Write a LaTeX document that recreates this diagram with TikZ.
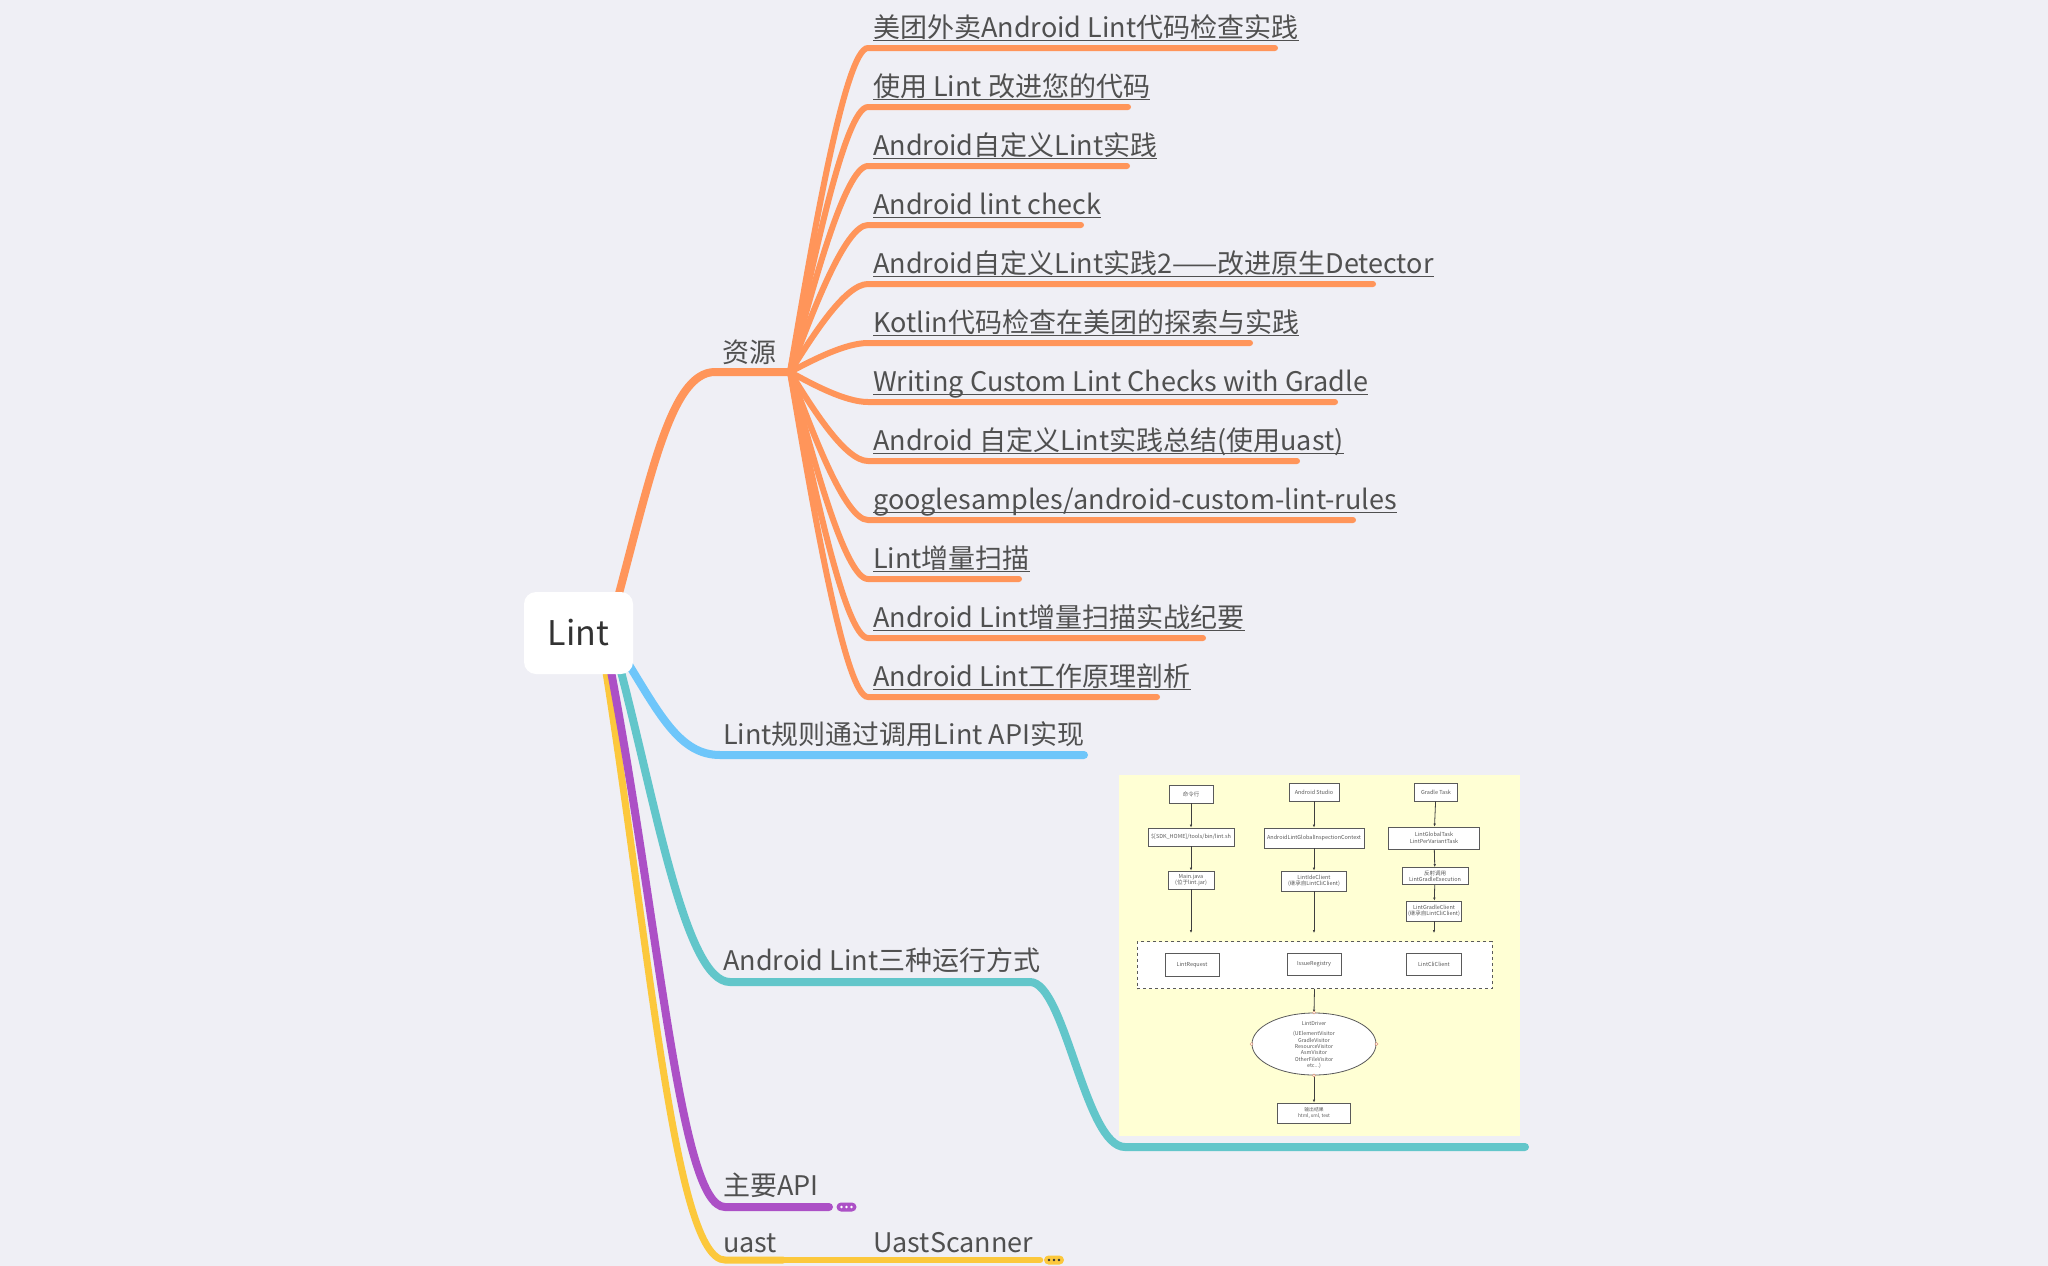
\documentclass[tikz,border=0pt]{standalone}
\usepackage{fontspec}
\setmainfont{Noto Sans CJK SC}
\usetikzlibrary{shapes.geometric,arrows.meta}
\definecolor{bgc}{RGB}{239,239,245}
\definecolor{txt}{RGB}{80,80,80}
\definecolor{rootc}{RGB}{51,51,51}
\definecolor{orn}{RGB}{255,149,90}
\definecolor{blu}{RGB}{110,198,250}
\definecolor{tea}{RGB}{98,198,202}
\definecolor{pur}{RGB}{172,80,198}
\definecolor{yel}{RGB}{252,200,60}
\definecolor{imgbg}{RGB}{255,255,212}
\definecolor{fgray}{RGB}{90,90,90}
\definecolor{pin}{RGB}{220,150,120}
\pgfdeclarelayer{back}\pgfdeclarelayer{lines}\pgfsetlayers{back,lines,main}
\tikzset{
  leaf/.style={inner sep=0pt, text=txt, font=\fontsize{27}{31}\selectfont},
  ul/.style={draw=txt, line width=1.7pt},
  oleaf/.style={draw=orn, line width=6pt, line cap=round},
  branch/.style={line width=8pt, line cap=round},
  root/.style={fill=white, rounded corners=12pt, minimum width=109pt, minimum height=82pt, inner sep=0pt, text=rootc, font=\fontsize{34}{37}\selectfont},
  pill/.style={rounded corners=4.5pt, minimum width=20pt, minimum height=9pt, inner sep=0pt},
  tinyt/.style={font=\fontsize{5.5}{6.5}\selectfont, text=fgray, align=center, inner sep=0pt},
  fbox/.style={tinyt, draw=fgray, fill=white, line width=0.8pt},
  farr/.style={draw=fgray!70!black, line width=0.8pt, -{Latex[length=3pt,width=2.6pt]}},
  pinc/.style={draw=pin, fill=white, line width=0.5pt},
}
\newcommand\mmleaf[4]{%
  \pgfmathsetmacro\cyy{372+0.4*(#2-372)}%
  \node[leaf, anchor=base west] (#1) at (873,#2-11) {#4};
  \draw[ul] ([yshift=-3.5pt]#1.base west) -- ([yshift=-3.5pt]#1.base east);
  \coordinate (#1e) at (#3,#2);
  \begin{pgfonlayer}{lines}
  \draw[oleaf] (hub) .. controls (812,\cyy) and (845,#2) .. (868,#2) -- (#1e);
  \end{pgfonlayer}
}
\begin{document}
\begin{tikzpicture}[x=1pt,y=-1pt]
\begin{pgfonlayer}{back}
\fill[bgc] (0,0) rectangle (2048,1266);
\end{pgfonlayer}
\useasboundingbox (0,0) rectangle (2048,1266);

% root
\node[root] (lint) at (578.5,633) {Lint};

% main branches
\coordinate (hub) at (790,372);
\coordinate (oS) at (614,612);
\coordinate (bS) at (626,660);
\coordinate (tS) at (619,664);
\coordinate (pS) at (610,666);
\coordinate (yS) at (605,666);
\coordinate (bE) at (1084,755);
\coordinate (tM) at (1030,982);
\coordinate (tE) at (1525,1147);
\coordinate (pE) at (829,1207);
\coordinate (yM) at (783,1260);
\coordinate (yE) at (1040,1260);
\begin{pgfonlayer}{lines}
\draw[branch, yel, line width=7pt] (yS) .. controls (650,950) and (675,1260) .. (725,1260) -- (yM);
\draw[branch, yel, line width=6.5pt] (yM) -- (yE);
\draw[branch, pur] (pS) .. controls (660,930) and (680,1207) .. (725,1207) -- (pE);
\draw[branch, tea] (tS) .. controls (655,800) and (685,982) .. (730,982) -- (tM)
   .. controls (1065,982) and (1085,1147) .. (1125,1147) -- (tE);
\draw[branch, blu] (bS) .. controls (660,715) and (680,755) .. (720,755) -- (bE);
\draw[branch, orn] (oS) .. controls (650,480) and (670,372) .. (715,372) -- (hub);
\end{pgfonlayer}

% branch labels
\node[leaf, anchor=base] (zy) at (749,362) {资源};
\node[leaf, anchor=base west] (api) at (723,744) {Lint规则通过调用Lint API实现};
\node[leaf, anchor=base west] (three) at (723,970) {Android Lint三种运行方式};
\node[leaf, anchor=base west] (main) at (723,1195) {主要API};
\node[leaf, anchor=base west] (uast) at (723,1252) {uast};
\node[leaf, anchor=base west] (scan) at (873,1252) {UastScanner};

% collapse pills
\node[pill, fill=pur] (pp) at (846.5,1207) {};
\foreach \d in {-5,0,5} \fill[white] ([xshift=\d pt]pp.center) circle (1.3);
\node[pill, fill=yel] (yp) at (1054,1260) {};
\foreach \d in {-5,0,5} \fill[rootc] ([xshift=\d pt]yp.center) circle (1.3);

% leaves
\mmleaf{l0}{48}{1275}{美团外卖Android Lint代码检查实践}
\mmleaf{l1}{107}{1128}{使用 Lint 改进您的代码}
\mmleaf{l2}{166}{1127}{Android自定义Lint实践}
\mmleaf{l3}{225}{1081}{Android lint check}
\mmleaf{l4}{284}{1373}{Android自定义Lint实践2——改进原生Detector}
\mmleaf{l5}{343}{1250}{Kotlin代码检查在美团的探索与实践}
\mmleaf{l6}{402}{1335}{Writing Custom Lint Checks with Gradle}
\mmleaf{l7}{461}{1297}{Android 自定义Lint实践总结(使用uast)}
\mmleaf{l8}{520}{1353}{googlesamples/android-custom-lint-rules}
\mmleaf{l9}{579}{1019}{Lint增量扫描}
\mmleaf{l10}{638}{1203}{Android Lint增量扫描实战纪要}
\mmleaf{l11}{697}{1157}{Android Lint工作原理剖析}

% embedded picture
\fill[imgbg] (1119,775) rectangle (1520,1136);
\node[fbox, minimum width=44pt, minimum height=18pt] (c1) at (1191,794) {命令行};
\node[fbox, minimum width=50pt, minimum height=18pt] (c2) at (1314,792) {Android Studio};
\node[fbox, minimum width=43pt, minimum height=18pt] (c3) at (1436,792) {Gradle Task};
\node[fbox, minimum width=86pt, minimum height=18pt] (d1) at (1191,837) {\$[SDK\_HOME]/tools/bin/lint.sh};
\node[fbox, minimum width=100pt, minimum height=20pt] (d2) at (1314,838) {AndroidLintGlobalInspectionContext};
\node[fbox, minimum width=91pt, minimum height=22pt] (d3) at (1434,838) {LintGlobalTask\\LintPerVariantTask};
\node[fbox, minimum width=46pt, minimum height=18pt] (e1) at (1191,880) {Main.java\\(位于lint.jar)};
\node[fbox, minimum width=65pt, minimum height=20pt] (e2) at (1314,881) {LintIdeClient\\(继承自LintCliClient)};
\node[fbox, minimum width=66pt, minimum height=17pt] (e3) at (1435,876) {反射调用\\LintGradleExecution};
\node[fbox, minimum width=55pt, minimum height=20pt] (f3) at (1434,911) {LintGradleClient\\(继承自LintCliClient)};
\coordinate (a1) at (1191,933);
\coordinate (a2) at (1314,933);
\coordinate (a3) at (1434,933);
\node[draw=fgray, dashed, fill=white, line width=0.8pt, minimum width=355pt, minimum height=47pt, inner sep=0pt] (dash) at (1314.5,965) {};
\node[fbox, minimum width=54pt, minimum height=23pt] (g1) at (1192,965) {LintRequest};
\node[fbox, minimum width=54pt, minimum height=22pt] (g2) at (1314,964) {IssueRegistry};
\node[fbox, minimum width=55pt, minimum height=22pt] (g3) at (1434,964) {LintCliClient};
\node[ellipse, draw=fgray, fill=white, line width=0.8pt, minimum width=124pt, minimum height=62pt, inner sep=0pt] (ell) at (1314,1044) {};
\node[tinyt, font=\fontsize{5.3}{6.4}\selectfont] (ellt) at (1314,1045) {LintDriver\\[4pt](UElementVisitor\\GradleVisitor\\ResourceVisitor\\AsmVisitor\\OtherFileVisitor\\etc...)};
\node[fbox, minimum width=73pt, minimum height=20pt, font=\fontsize{4.8}{5.8}\selectfont] (out) at (1314,1113) {输出结果\\html, xml, text};
\draw[farr] (c1) -- (d1);
\draw[farr] (d1) -- (e1);
\draw[farr] (e1) -- (a1);
\draw[farr] (c2) -- (d2);
\draw[farr] (d2) -- (e2);
\draw[farr] (e2) -- (a2);
\draw[farr] (c3) -- (d3);
\draw[farr] (d3) -- (e3);
\draw[farr] (e3) -- (f3);
\draw[farr] (f3) -- (a3);
\draw[farr] (dash.south) -- (ell.north);
\draw[farr] (ell.south) -- (out.north);
\foreach \a in {north,south,east,west} \draw[pinc] (ell.\a) circle (1.5);
\end{tikzpicture}
\end{document}
